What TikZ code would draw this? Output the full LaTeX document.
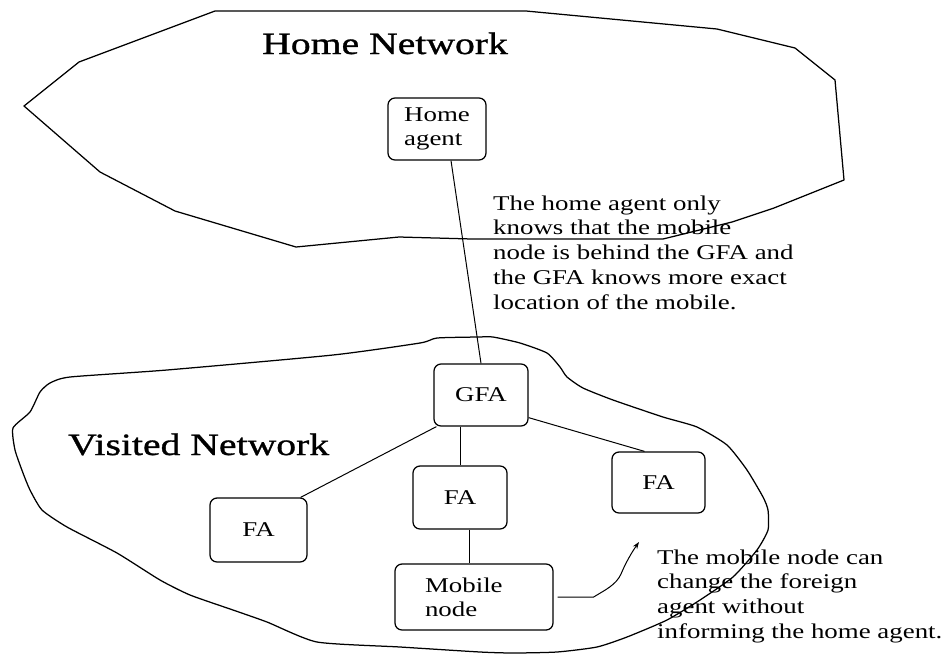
\documentclass[tikz,border=0pt]{standalone}
\usepackage{fontspec}
\setmainfont{Liberation Serif}[FakeStretch=1.28]
\newfontfamily\titlefont{Liberation Serif}[FakeStretch=1.28, FakeBold=1]
\usetikzlibrary{arrows.meta}
\begin{document}
\begin{tikzpicture}[x=1pt,y=-1pt,
  outline/.style={draw=black, line width=1.25pt, line join=round},
  agent/.style={draw=black, rounded corners=7pt, line width=1.25pt, inner sep=0pt,
    align=center, font=\fontsize{21}{24}\selectfont},
  conn/.style={draw=black, line width=1pt},
  title/.style={anchor=base west, inner sep=0pt, font=\titlefont\fontsize{31}{36}\selectfont},
  note/.style={anchor=north west, inner sep=0pt, align=left, font=\fontsize{21}{24.7}\selectfont}]
\useasboundingbox (0,0) rectangle (944,654);
\fill[white] (0,0) rectangle (944,654);

% Home network outline
\draw[outline] (215,11) -- (526,11) -- (717,29) -- (795,48) -- (835,80) -- (844,180)
  -- (774,208) -- (732,222) -- (663,239) -- (472,239) -- (399,237) -- (296,247)
  -- (175,211) -- (100,172) -- (24,106) -- (79,62) -- cycle;

% Visited network outline
\draw[outline] plot[smooth cycle, tension=0.35] coordinates {
  (478,337) (437,338) (420,343) (333,355) (167,370) (70,377) (50,383) (40,392)
  (30,412) (13,428) (15,450) (23,473) (30,490) (42,510) (67,527) (117,553)
  (160,580) (190,595) (233,610) (267,622) (317,642) (400,647) (480,652)
  (513,653) (557,652) (597,647) (627,637) (667,620) (700,600) (733,577)
  (757,550) (768,530) (768,510) (763,497) (747,470) (727,445) (697,427)
  (663,417) (613,400) (583,388) (567,377) (560,367) (547,353) (520,343) (493,337)};

% Titles
\node[title] (hn) at (262,54) {Home Network};
\node[title] (vn) at (68,455) {Visited Network};

% Agents
\node[agent, minimum width=98pt, minimum height=62pt, align=left] (ha) at (437,129) {Home\\agent};
\node[agent, minimum width=94pt, minimum height=62pt] (gfa) at (481,395) {GFA};
\node[agent, minimum width=97pt, minimum height=64pt] (fa1) at (258.5,530) {FA};
\node[agent, minimum width=94pt, minimum height=63pt] (fa2) at (460,497.5) {FA};
\node[agent, minimum width=93pt, minimum height=61pt] (fa3) at (658.5,482.5) {FA};
\node[agent, minimum width=158pt, minimum height=66pt, text width=98pt, align=left] (mn) at (474,597) {Mobile\\node};

% Connectors
\draw[conn] ([xshift=14pt]ha.south) -- (gfa.north);
\draw[conn] ([xshift=3pt]gfa.south west) -- ([xshift=-7pt]fa1.north east);
\draw[conn] (fa2.north |- gfa.south) -- (fa2.north);
\draw[conn] ([yshift=9pt]gfa.south east) -- ([xshift=-14pt]fa3.north);
\coordinate (mnline) at ([xshift=-5pt]mn.north);
\draw[conn] (fa2.south -| mnline) -- (mnline);

% Move arrow
\coordinate (tip) at (639,542);
\draw[conn, -{Stealth[length=7pt,width=5pt]}] ([xshift=4pt]mn.east) -- ++(36,0)
  .. controls (605,590) and (616,585) .. (621,574)
  .. controls (626,562) and (632,552) .. (tip);

% Notes
\node[note] (n1) at (493,195.5) {The home agent only\\knows that the mobile\\node is behind the GFA and\\the GFA knows more exact\\location of the mobile.};
\node[note] (n2) at (657,549.5) {The mobile node can\\change the foreign\\agent without\\informing the home agent.};
\end{tikzpicture}
\end{document}
